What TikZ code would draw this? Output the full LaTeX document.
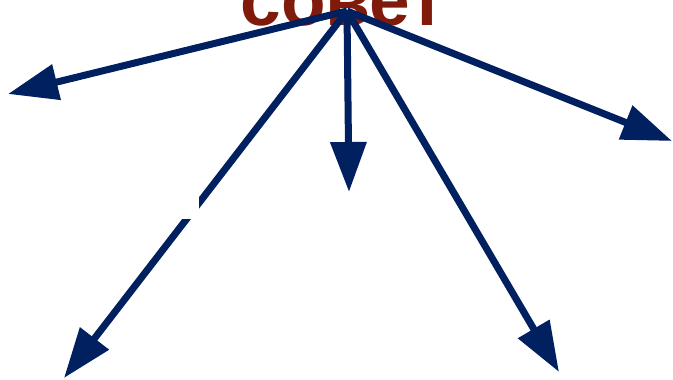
\documentclass[tikz,border=0pt]{standalone}
\usepackage{fontspec}
\setmainfont{Liberation Sans}
\usetikzlibrary{arrows.meta}
\definecolor{navy}{RGB}{0,32,96}
\definecolor{darkred}{RGB}{128,26,10}
\tikzset{
  fan/.style={draw=navy, line width=7pt, -{Triangle[length=50pt,width=35pt]}, fill=none},
  title/.style={text=darkred, font=\bfseries\fontsize{73}{80}\selectfont, inner sep=0pt, anchor=base}
}
\begin{document}
\begin{tikzpicture}[x=1pt,y=-1pt]
\useasboundingbox (0,0) rectangle (673,380);
\node[title] (t) at (343,26) {совет};
\coordinate (o) at (347,11);
\coordinate (l) at (8,94);
\coordinate (r) at (672,141);
\coordinate (d) at (349,192);
\coordinate (dl) at (64,378);
\coordinate (dr) at (559,372);
\draw[fan] (o) -- (l);
\draw[fan] (o) -- (r);
\draw[fan] (o) -- (d);
\draw[fan] (o) -- (dl);
\draw[fan] (o) -- (dr);
\fill[white] (170,192) rectangle (199.3,219.3);
\end{tikzpicture}
\end{document}
